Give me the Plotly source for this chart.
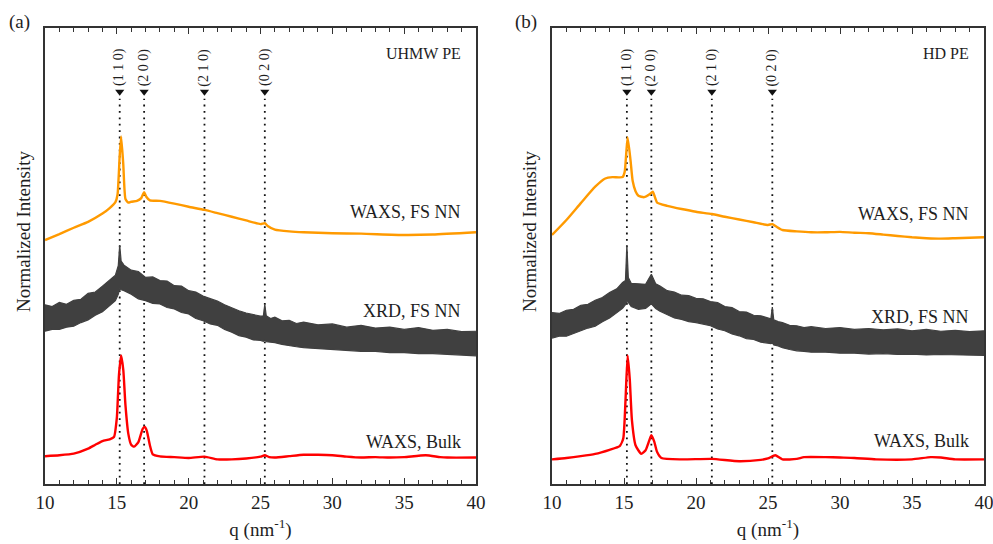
import plotly.graph_objects as go

# ---------------- data ----------------
# Panel (a): UHMW PE
a_waxs_nn_q = [10, 11, 12, 13, 14, 14.5, 14.9, 15.05, 15.2, 15.3, 15.45, 15.6, 15.8, 16.0, 16.4, 16.7,
               16.9, 17.05, 17.3, 18, 19, 20, 21.1, 22, 23, 24, 25, 25.3, 25.5, 26, 27, 28, 30, 32, 35, 37, 40]
a_waxs_nn_i = [53.5, 54.8, 56.2, 57.5, 59.3, 60.5, 61.8, 63.5, 72.0, 76.2, 70.0, 62.5, 61.7, 61.9, 62.1, 62.7,
               64.0, 63.0, 62.2, 62.1, 61.5, 60.8, 60.1, 59.4, 58.6, 57.8, 57.0, 57.2, 56.6, 55.8, 55.4, 55.2,
               55.0, 54.9, 54.6, 54.7, 55.2]

a_xrd_q = [10, 10.5, 11, 11.5, 12, 12.5, 13, 13.5, 14, 14.5, 14.9, 15.1, 15.2, 15.3, 15.5, 16, 16.5, 17, 17.5,
           18, 18.5, 19, 19.5, 20, 20.5, 21, 21.5, 22, 22.5, 23, 23.5, 24, 24.5, 25, 25.2, 25.3, 25.4, 25.7,
           26, 26.5, 27, 27.5, 28, 29, 30, 31, 32, 33, 34, 35, 36, 37, 38, 39, 40]
a_xrd_hi = [39.3, 38.9, 39.8, 39.4, 40.3, 40.5, 41.8, 42.1, 43.4, 44.7, 45.8, 47.9, 52.4, 48.9, 48.0, 46.9,
            46.6, 45.3, 45.4, 44.6, 44.5, 43.5, 43.4, 42.4, 42.1, 41.2, 40.6, 40.1, 39.3, 38.6, 38.0, 37.5,
            37.1, 36.8, 36.9, 39.4, 36.9, 36.3, 36.6, 35.8, 35.9, 35.2, 35.5, 34.9, 35.1, 34.4, 34.8, 34.2,
            34.4, 33.9, 34.3, 33.7, 33.9, 33.4, 33.5]
a_xrd_lo = [33.5, 33.9, 33.9, 34.4, 34.6, 35.4, 36.0, 37.0, 37.8, 39.1, 40.2, 41.6, 42.8, 42.6, 42.4, 41.6,
            40.6, 40.2, 39.6, 39.5, 38.7, 38.4, 37.6, 37.3, 36.3, 35.8, 35.1, 34.8, 33.9, 33.3, 32.5, 32.2,
            31.6, 31.5, 31.3, 31.6, 31.2, 31.1, 31.0, 30.6, 30.3, 30.1, 29.9, 29.7, 29.5, 29.3, 29.1, 29.1,
            28.8, 28.8, 28.6, 28.6, 28.4, 28.3, 28.1]

a_waxs_bulk_q = [10, 11, 12, 13, 13.5, 14, 14.5, 14.8, 15.0, 15.15, 15.3, 15.45, 15.6, 15.8, 16.0, 16.2, 16.5,
                 16.8, 16.95, 17.1, 17.3, 17.5, 18, 19, 20, 21.1, 22, 23, 24, 25, 25.3, 25.6, 26, 27, 28,
                 29, 30, 31, 32, 33, 34, 35, 36.5, 37.5, 38, 40]
a_waxs_bulk_i = [6.1, 6.3, 6.65, 7.75, 8.6, 9.4, 9.8, 10.3, 14.5, 24.0, 28.2, 25.0, 17.3, 11.0, 8.6, 8.2, 9.2,
                 12.1, 12.5, 11.5, 8.5, 6.5, 6.07, 5.9, 5.7, 6.0, 5.4, 5.4, 5.6, 6.0, 6.3, 5.9, 5.8, 6.1, 6.4,
                 6.4, 6.3, 6.0, 5.8, 5.9, 5.8, 5.9, 6.3, 5.9, 5.8, 5.8]

# Panel (b): HD PE
b_waxs_nn_q = [10, 11, 12, 13, 13.7, 14.2, 14.9, 15.05, 15.25, 15.45, 15.6, 15.8, 16.0, 16.4, 16.8, 17.0, 17.3,
               18, 19, 20, 21.1, 22, 23, 24, 25, 25.3, 25.6, 26, 27, 28, 29, 30, 31, 32, 33, 34, 35, 36, 37,
               38, 39, 40]
b_waxs_nn_i = [54.6, 57.9, 61.6, 65.2, 67.0, 67.3, 67.3, 68.5, 76.0, 71.1, 66.5, 64.2, 63.2, 62.9, 63.6, 64.1,
               61.7, 61.0, 60.3, 59.7, 59.2, 58.6, 58.0, 57.4, 56.8, 57.0, 56.4, 55.7, 55.4, 55.2, 55.2, 55.3,
               55.1, 55.0, 54.7, 54.4, 54.1, 53.9, 53.8, 53.9, 54.0, 54.1]

b_xrd_q = [10, 10.5, 11, 11.5, 12, 12.5, 13, 13.5, 14, 14.5, 14.9, 15.1, 15.2, 15.3, 15.5, 16, 16.5, 16.9, 17.2,
           17.5, 18, 18.5, 19, 19.5, 20, 20.5, 21, 21.5, 22, 22.5, 23, 23.5, 24, 24.5, 25, 25.2, 25.3, 25.4,
           25.7, 26, 26.5, 27, 27.5, 28, 29, 30, 31, 32, 33, 34, 35, 36, 37, 38, 39, 40]
b_xrd_hi = [37.6, 37.4, 38.1, 38.3, 39.2, 39.4, 40.3, 40.9, 42.0, 42.8, 44.2, 44.6, 52.4, 45.3, 44.0, 43.9,
            43.8, 46.0, 43.9, 43.4, 42.4, 42.1, 41.4, 41.3, 40.7, 40.6, 40.0, 39.8, 38.9, 38.7, 37.8, 37.7,
            37.0, 36.9, 36.3, 36.2, 38.8, 36.0, 35.6, 35.4, 34.8, 34.7, 34.3, 34.5, 34.1, 34.3, 33.9, 34.1,
            33.8, 34.0, 33.6, 33.9, 33.5, 33.7, 33.4, 33.6]
b_xrd_lo = [32.0, 32.4, 32.4, 33.0, 33.5, 34.2, 34.6, 35.6, 36.4, 37.5, 38.5, 39.3, 40.0, 39.8, 38.9, 38.3,
            38.5, 39.5, 38.5, 37.9, 37.1, 36.4, 36.1, 35.6, 35.4, 35.0, 34.7, 34.0, 33.6, 32.9, 32.5, 31.9,
            31.7, 31.1, 31.0, 30.8, 31.0, 30.5, 30.3, 29.9, 29.5, 29.2, 29.1, 28.9, 28.9, 28.7, 28.7, 28.5,
            28.6, 28.4, 28.5, 28.3, 28.4, 28.3, 28.3, 28.2]

b_waxs_bulk_q = [10, 11, 12, 13, 14, 14.7, 14.95, 15.1, 15.25, 15.4, 15.55, 15.8, 16.2, 16.5, 16.75, 16.9, 17.1,
                 17.3, 17.6, 19, 21.1, 23, 24.5, 25, 25.5, 26, 27, 27.5, 29, 30, 31, 32.5, 35, 36.3, 37, 38, 40]
b_waxs_bulk_i = [5.4, 5.7, 6.1, 6.6, 7.5, 8.3, 10.0, 18.0, 28.2, 23.0, 14.0, 8.5, 6.6, 7.4, 9.5, 10.7, 9.3,
                 7.0, 5.7, 5.4, 5.5, 5.0, 5.3, 5.6, 6.3, 5.4, 5.5, 5.9, 5.9, 5.8, 5.7, 5.4, 5.4, 5.9, 5.8, 5.4, 5.4]

# Reflections marked with dotted lines
refl_q = [15.2, 16.9, 21.1, 25.3]
refl_labels = ["(1 1 0)", "(2 0 0)", "(2 1 0)", "(0 2 0)"]

panel_tags = ["(a)", "(b)"]
sample_names = ["UHMW PE", "HD PE"]
curve_names = ["WAXS, FS NN", "XRD, FS NN", "WAXS, Bulk"]
curve_label_y = [[59.6, 37.9, 9.2], [59.2, 36.6, 9.4]]

# ---------------- styling ----------------
ORANGE = "#FF9A00"
GRAY = "#404040"
RED = "#FF0000"
FONT = "Liberation Serif, Times New Roman, DejaVu Serif, serif"
TXT = "#1e1e1e"
W, H = 993, 544

x_domains = [[45 / W, 476 / W], [552 / W, 984 / W]]
y_domain = [1 - 484 / H, 1 - 28 / H]

fig = go.Figure()

panels = [
    (a_waxs_nn_q, a_waxs_nn_i, a_xrd_q, a_xrd_hi, a_xrd_lo, a_waxs_bulk_q, a_waxs_bulk_i),
    (b_waxs_nn_q, b_waxs_nn_i, b_xrd_q, b_xrd_hi, b_xrd_lo, b_waxs_bulk_q, b_waxs_bulk_i),
]

for k, (nq, ni, xq, xhi, xlo, bq, bi) in enumerate(panels):
    xa = "x" if k == 0 else "x2"
    ya = "y" if k == 0 else "y2"

    # dotted reflection markers
    for q in refl_q:
        fig.add_trace(go.Scatter(x=[q, q], y=[0, 84.5], mode="lines", xaxis=xa, yaxis=ya,
                                 line=dict(color="#111111", width=1.8, dash="1.8px,4.6px"),
                                 showlegend=False, hoverinfo="skip"))
    fig.add_trace(go.Scatter(x=refl_q, y=[86.0] * len(refl_q), mode="markers", xaxis=xa, yaxis=ya,
                             marker=dict(symbol="triangle-down", size=8, color="#111111"),
                             showlegend=False, hoverinfo="skip"))

    # noisy XRD band
    fig.add_trace(go.Scatter(x=xq, y=xlo, mode="lines", xaxis=xa, yaxis=ya,
                             line=dict(color=GRAY, width=1.2, shape="linear"),
                             showlegend=False, hoverinfo="skip"))
    fig.add_trace(go.Scatter(x=xq, y=xhi, mode="lines", xaxis=xa, yaxis=ya, fill="tonexty",
                             fillcolor=GRAY, line=dict(color=GRAY, width=1.2, shape="linear"),
                             showlegend=False, hoverinfo="skip"))

    # WAXS curves
    fig.add_trace(go.Scatter(x=nq, y=ni, mode="lines", xaxis=xa, yaxis=ya,
                             line=dict(color=ORANGE, width=2.4, shape="spline", smoothing=0.5),
                             showlegend=False))
    fig.add_trace(go.Scatter(x=bq, y=bi, mode="lines", xaxis=xa, yaxis=ya,
                             line=dict(color=RED, width=2.4, shape="spline", smoothing=0.5),
                             showlegend=False))

    # reflection labels (rotated)
    for q, lab in zip(refl_q, refl_labels):
        fig.add_annotation(x=q, y=91.4, xref=xa, yref=ya, text=lab, textangle=-90, showarrow=False,
                           xanchor="center", yanchor="middle",
                           font=dict(family=FONT, size=14, color=TXT))

    # sample name and curve names
    fig.add_annotation(x=39.1, y=94.3, xref=xa, yref=ya, text=sample_names[k], showarrow=False,
                       xanchor="right", yanchor="middle", font=dict(family=FONT, size=16, color=TXT))
    for name, yy in zip(curve_names, curve_label_y[k]):
        fig.add_annotation(x=39.1, y=yy, xref=xa, yref=ya, text=name, showarrow=False,
                           xanchor="right", yanchor="middle", font=dict(family=FONT, size=18, color=TXT))

# axis definitions
for k in range(2):
    sfx = "" if k == 0 else "2"
    fig.update_layout(**{
        "xaxis" + sfx: dict(domain=x_domains[k], range=[10, 40], anchor="y" + sfx,
                            tickmode="array", tickvals=[10, 15, 20, 25, 30, 35, 40],
                            ticks="inside", ticklen=6, tickwidth=1.2, tickcolor="#333333",
                            minor=dict(dtick=1, ticks="inside", ticklen=4, tickwidth=1.2,
                                       tickcolor="#333333"),
                            showline=True, linecolor="#333333", linewidth=1.6, mirror="allticks",
                            showgrid=False, zeroline=False, automargin=False,
                            ticklabeloverflow="allow",
                            tickfont=dict(family=FONT, size=19, color=TXT),
                            title=dict(text="q (nm<sup>-1</sup>)", standoff=11,
                                       font=dict(family=FONT, size=19, color=TXT))),
        "yaxis" + sfx: dict(domain=y_domain, range=[0, 100], anchor="x" + sfx,
                            showticklabels=False, ticks="", showline=True, linecolor="#333333",
                            linewidth=1.6, mirror=True, showgrid=False, zeroline=False,
                            automargin=False),
    })

# y titles and panel tags
for k, (xp, tx) in enumerate([(23, 19), (529, 526)]):
    fig.add_annotation(x=xp / W, y=1 - 232 / H, xref="paper", yref="paper", text="Normalized Intensity",
                       textangle=-90, showarrow=False, xanchor="center", yanchor="middle",
                       font=dict(family=FONT, size=19, color=TXT))
    fig.add_annotation(x=tx / W, y=1 - 22 / H, xref="paper", yref="paper", text=panel_tags[k],
                       showarrow=False, xanchor="center", yanchor="middle",
                       font=dict(family=FONT, size=19, color=TXT))

fig.update_layout(width=W, height=H, margin=dict(l=0, r=0, t=0, b=0),
                  paper_bgcolor="white", plot_bgcolor="white", showlegend=False)

fig.write_html("out.html")
